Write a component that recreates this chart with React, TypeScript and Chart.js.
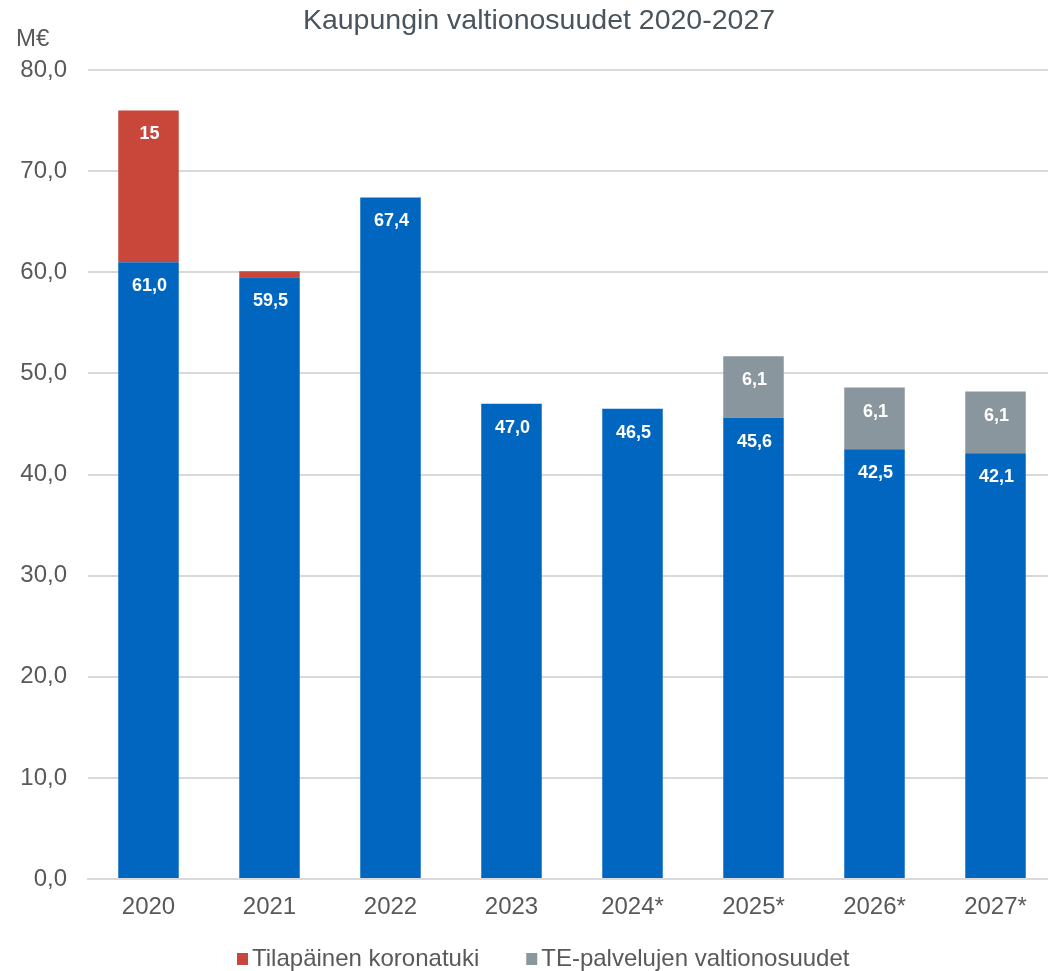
import React, { useEffect, useRef } from "react";
import { Chart, registerables } from "chart.js";

Chart.register(...registerables);

const categories = ["2020", "2021", "2022", "2023", "2024*", "2025*", "2026*", "2027*"];
const baseValues = [61.0, 59.5, 67.4, 47.0, 46.5, 45.6, 42.5, 42.1];
const coronaValues: (number | null)[] = [15, 0.6, null, null, null, null, null, null];
const teValues: (number | null)[] = [null, null, null, null, null, 6.1, 6.1, 6.1];
const seriesNames = ["Valtionosuudet", "Tilapäinen koronatuki", "TE-palvelujen valtionosuudet"];
const titleText = "Kaupungin valtionosuudet 2020-2027";
const unitText = "M€";
const yMin = 0;
const yMax = 80;
const yStep = 10;

const FONT = "'Liberation Sans', Arial, Helvetica, sans-serif";
const BLUE = "#0066BF";
const RED = "#C8473A";
const GRAY = "#8A969E";
const TEXT = "#595959";

const fmt = (v: number, di: number) => (di === 1 ? String(v) : v.toFixed(1).replace(".", ","));

const labelPlugin = {
  id: "valueLabels",
  afterDatasetsDraw(chart: any) {
    const ctx = chart.ctx;
    ctx.save();
    ctx.fillStyle = "#FFFFFF";
    ctx.font = `bold 18px ${FONT}`;
    ctx.textAlign = "center";
    ctx.textBaseline = "middle";
    chart.data.datasets.forEach((ds: any, di: number) => {
      const meta = chart.getDatasetMeta(di);
      meta.data.forEach((el: any, i: number) => {
        const v = ds.data[i];
        if (v == null || v < 2) return;
        ctx.fillText(fmt(v, di), el.x + 1, el.y + 24);
      });
    });
    ctx.restore();
  },
};

const decorPlugin = {
  id: "decor",
  afterDraw(chart: any) {
    const ctx = chart.ctx;
    ctx.save();
    // title
    ctx.fillStyle = "#4A545C";
    ctx.font = `28.5px ${FONT}`;
    ctx.textAlign = "center";
    ctx.textBaseline = "middle";
    ctx.fillText(titleText, 539, 21);
    // unit
    ctx.fillStyle = TEXT;
    ctx.font = `24px ${FONT}`;
    ctx.textAlign = "left";
    ctx.fillText(unitText, 16, 39);
    // legend (only the two extra series)
    let x = 237;
    const y = 959;
    [1, 2].forEach((di) => {
      const ds = chart.data.datasets[di];
      ctx.fillStyle = ds.backgroundColor;
      ctx.fillRect(x, y - 6, 11, 12);
      x += 11 + 4;
      ctx.fillStyle = TEXT;
      ctx.font = `24px ${FONT}`;
      ctx.textAlign = "left";
      ctx.fillText(ds.label, x, y);
      x += ctx.measureText(ds.label).width + 47;
    });
    ctx.restore();
  },
};

export default function App() {
  const ref = useRef<HTMLCanvasElement | null>(null);

  useEffect(() => {
    if (!ref.current) return;
    const chart = new Chart(ref.current, {
      type: "bar",
      data: {
        labels: categories,
        datasets: [
          { label: seriesNames[0], data: baseValues, backgroundColor: BLUE, barPercentage: 0.5, categoryPercentage: 1 },
          { label: seriesNames[1], data: coronaValues as any, backgroundColor: RED, barPercentage: 0.5, categoryPercentage: 1 },
          { label: seriesNames[2], data: teValues as any, backgroundColor: GRAY, barPercentage: 0.5, categoryPercentage: 1 },
        ],
      },
      options: {
        responsive: false,
        animation: false,
        devicePixelRatio: 1,
        layout: { padding: { top: 70, left: 0, right: 0, bottom: 0 } },
        plugins: {
          legend: { display: false },
          title: { display: false },
          tooltip: { enabled: false },
        },
        scales: {
          x: {
            stacked: true,
            grid: { display: false, drawTicks: false },
            border: { display: true, color: "#D9D9D9", width: 2 },
            ticks: { color: TEXT, font: { family: FONT, size: 24 }, padding: 14 },
            afterFit: (s: any) => {
              s.height = 92;
            },
          },
          y: {
            stacked: true,
            min: yMin,
            max: yMax,
            ticks: {
              stepSize: yStep,
              color: TEXT,
              font: { family: FONT, size: 24 },
              padding: 21,
              callback: (v: any) => Number(v).toFixed(1).replace(".", ","),
            },
            grid: { color: "#D9D9D9", lineWidth: 2, drawTicks: false },
            border: { display: false },
            afterFit: (s: any) => {
              s.width = 88;
            },
          },
        },
      },
      plugins: [labelPlugin, decorPlugin],
    });
    return () => chart.destroy();
  }, []);

  return (
    <div style={{ position: "fixed", left: 0, top: 0, width: 1048, height: 971, overflow: "hidden", background: "#fff" }}>
      <canvas ref={ref} width={1056} height={971} style={{ display: "block", width: 1056, height: 971 }} />
    </div>
  );
}
